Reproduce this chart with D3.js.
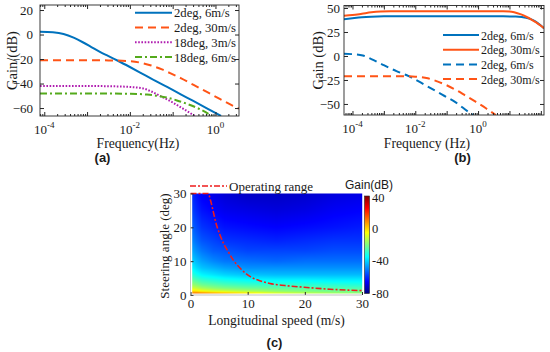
<!DOCTYPE html>
<html>
<head>
<meta charset="utf-8">
<script src="https://cdn.jsdelivr.net/npm/d3@7"></script>
<style>
body { margin: 0; background: #fff; }
svg text { font-family: "Liberation Serif", "Times New Roman", serif; fill: #1a1a1a; }
</style>
</head>
<body>
<div id="chart"></div>
<script>
// ---------- data (log10 frequency in Hz, gain in dB) ----------
var a2deg6 = [[-4.1, 2.2], [-3.8, 1.8], [-3.55, 0.5], [-3.3, -2.8], [-3.1, -6.3], [-2.9, -10.2], [-2.7, -14.2],
  [-2.5, -17.6], [-2.28, -21.4], [-2.0, -26.5], [-1.76, -31], [-1.5, -36], [-1.13, -42.8], [-0.8, -49],
  [-0.53, -54], [-0.2, -60.2], [0.13, -66.5]];
var a2deg30 = [[-4.1, -21], [-3, -21], [-2.5, -21.1], [-2, -21.8], [-1.75, -23], [-1.5, -25.3], [-1.25, -28.5],
  [-1.06, -31.5], [-0.8, -35.8], [-0.5, -41.3], [-0.2, -46.9], [0.1, -52.5], [0.41, -58.2], [0.55, -60.5]];
var a18deg3 = [[-4.1, -42], [-3, -42], [-2.5, -42.2], [-2, -42.8], [-1.69, -44], [-1.5, -46.5], [-1.3, -50],
  [-1.05, -54.5], [-0.83, -59], [-0.65, -62.8], [-0.48, -66.5]];
var a18deg6 = [[-4.1, -48.2], [-2.5, -48.2], [-2, -48.4], [-1.6, -49], [-1.35, -50], [-1.13, -51.5], [-0.9, -53.8],
  [-0.67, -56.5], [-0.36, -61], [-0.08, -66.5]];

var bSolid6 = [[-4.27, 38.3], [-4, 39.3], [-3.7, 40.3], [-3.4, 40.9], [-3, 41.3], [-2, 41.4], [0, 41.4], [0.8, 41.3],
  [1.2, 41.1], [1.4, 40.5], [1.6, 39.3], [1.75, 37.3], [1.9, 34.3], [2.0, 31.8], [2.1, 28.8]];
var bSolid30 = [[-4.27, 42], [-4, 42.6], [-3.7, 44], [-3.4, 45.5], [-3.1, 46.4], [-2.8, 46.7], [0, 46.7], [0.8, 46.6],
  [1.0, 46.4], [1.15, 45.6], [1.37, 43.3], [1.55, 40.6], [1.7, 38], [1.85, 35], [2.0, 31.5], [2.1, 29]];
var bDash6 = [[-4.27, 2.2], [-4, 1.9], [-3.67, 0.5], [-3.4, -3.2], [-3.03, -9.2], [-2.6, -15.8], [-2.21, -21],
  [-1.7, -30], [-1.13, -40.6], [-0.7, -48.6], [-0.24, -59.7], [-0.14, -61.5]];
var bDash30 = [[-4.27, -21], [-2.5, -21], [-2, -21.6], [-1.6, -23.3], [-1.3, -26.5], [-1, -30.5], [-0.71, -35.3],
  [-0.4, -41.3], [-0.08, -47.6], [0.25, -54.5], [0.56, -61.5]];

var aLabels = ["2deg, 6m/s", "2deg, 30m/s", "18deg, 3m/s", "18deg, 6m/s"];
var bLabels = ["2deg, 6m/s", "2deg, 30m/s", "2deg, 6m/s", "2deg, 30m/s"];
var aYTicks = [20, 0, -20, -40, -60];
var bYTicks = [50, 25, 0, -25, -50];
var freqLabelExps = [-4, -2, 0];

// panel (c): gain (dB) over longitudinal speed (columns) and steering angle (rows)
var cSpeeds = [0.3, 1, 2, 4, 6, 10, 15, 20, 25, 30];
var cAngles = [0.3, 0.6, 1, 1.5, 2, 3, 4, 6, 8, 10, 13, 16, 20, 25, 30];
var cGain = [
  [2, 4, 3, 1, -1, -5, -10, -15, -18, -20],
  [9, 11, 9, 6, 3, -3, -9, -13, -16, -18],
  [1, 0, -3, -7, -9, -13, -17, -19, -21, -22],
  [-5, -7, -10, -13, -15, -18, -20, -22, -23, -24],
  [-10, -12, -15, -18, -20, -22, -24, -25, -26, -26],
  [-17, -19, -22, -24, -26, -28, -29, -30, -30, -31],
  [-22, -24, -27, -29, -31, -33, -34, -34, -35, -35],
  [-30, -33, -36, -38, -40, -42, -43, -43, -43, -43],
  [-36, -39, -42, -44, -46, -48, -48, -48, -48, -48],
  [-40, -43, -46, -49, -51, -52, -53, -52, -52, -52],
  [-45, -48, -51, -54, -55, -57, -57, -57, -56, -56],
  [-49, -52, -55, -57, -59, -60, -61, -60, -59, -59],
  [-53, -56, -59, -61, -63, -64, -65, -64, -63, -62],
  [-57, -60, -63, -65, -67, -68, -69, -68, -66, -65],
  [-60, -63, -66, -68, -70, -72, -72, -71, -69, -68]
];
var rangeSpeed = [0, 3.1, 3.5, 4, 4.5, 5.1, 6, 6.6, 7.5, 8.7, 10.4, 12, 13.9, 16.5, 19.8, 24.4, 30];
var rangeAngle = [30, 30, 28, 24.5, 21, 18, 14.5, 12.8, 10.3, 7.9, 5.5, 4.3, 3.4, 2.8, 2.3, 1.7, 1.3];
var cTicks = [0, 10, 20, 30];
var cbarTicks = [40, 0, -40, -80];

// ---------- styles ----------
var BLUE = "#0072BD", ORANGE = "#FF5416", PURPLE = "#B01CB0", GREEN = "#54AA1C";
var AXIS = "#262626";

var svg = d3.select("#chart").append("svg")
    .attr("width", 550)
    .attr("height", 352);

function pow10(e) { return Math.pow(10, e); }

function bodePanel(id, box, xExp, yDom, yTicks, yPad, series, legend, xTitle, yTitle, yTitleX) {
    var x = d3.scaleLog().domain([pow10(xExp[0]), pow10(xExp[1])]).range([box.l, box.r]);
    var y = d3.scaleLinear().domain(yDom).range([box.b, box.t]);
    var g = svg.append("g");

    g.append("clipPath").attr("id", id)
      .append("rect").attr("x", box.l).attr("y", box.t)
        .attr("width", box.r - box.l).attr("height", box.b - box.t);

    var major = [], minor = [];
    for (var k = Math.floor(xExp[0]); k <= Math.ceil(xExp[1]); k++) {
        if (k >= xExp[0] && k <= xExp[1]) major.push(pow10(k));
        for (var m = 2; m < 10; m++) {
            var v = m * pow10(k);
            if (v >= pow10(xExp[0]) && v <= pow10(xExp[1])) minor.push(v);
        }
    }

    var line = d3.line()
        .x(function (d) { return x(pow10(d[0])); })
        .y(function (d) { return y(d[1]); })
        .curve(d3.curveMonotoneX);

    g.append("g").attr("clip-path", "url(#" + id + ")")
      .selectAll("path").data(series)
      .enter().append("path")
        .attr("d", function (s) { return line(s.data); })
        .attr("fill", "none")
        .attr("stroke", function (s) { return s.color; })
        .attr("stroke-width", 2)
        .attr("stroke-dasharray", function (s) { return s.dash; });

    // ticks, inside the box
    [[d3.axisBottom, box.b, major, 4], [d3.axisTop, box.t, major, 4],
     [d3.axisBottom, box.b, minor, 2], [d3.axisTop, box.t, minor, 2]].forEach(function (a) {
        g.append("g").attr("transform", "translate(0," + a[1] + ")")
          .call(a[0](x).tickValues(a[2]).tickSize(-a[3]).tickSizeOuter(0).tickFormat(""))
          .call(function (s) { s.select(".domain").remove(); s.selectAll("line").attr("stroke", AXIS); });
    });
    var yl = g.append("g").attr("transform", "translate(" + box.l + ",0)")
      .call(d3.axisLeft(y).tickValues(yTicks).tickSize(-4).tickSizeOuter(0).tickPadding(yPad));
    yl.select(".domain").remove();
    yl.selectAll("line").attr("stroke", AXIS);
    yl.selectAll("text").attr("font-family", "Liberation Serif").attr("font-size", 13).attr("fill", "#1a1a1a");
    g.append("g").attr("transform", "translate(" + box.r + ",0)")
      .call(d3.axisRight(y).tickValues(yTicks).tickSize(-4).tickSizeOuter(0).tickFormat(""))
      .call(function (s) { s.select(".domain").remove(); s.selectAll("line").attr("stroke", AXIS); });

    // log tick labels with superscripts
    freqLabelExps.forEach(function (e) {
        var t = g.append("text")
            .attr("x", x(pow10(e)))
            .attr("y", box.b + 18)
            .attr("text-anchor", "middle")
            .attr("font-size", 13);
        t.append("tspan").text("10");
        t.append("tspan").attr("dy", -6).attr("font-size", 9).text(e < 0 ? "-" + (-e) : e);
    });

    g.append("rect")
        .attr("x", box.l).attr("y", box.t)
        .attr("width", box.r - box.l).attr("height", box.b - box.t)
        .attr("fill", "none").attr("stroke", AXIS).attr("stroke-width", 0.9);

    // legend
    var lg = g.append("g").selectAll("g").data(series)
      .enter().append("g")
        .attr("transform", function (s, i) { return "translate(0," + (legend.y + i * legend.dy) + ")"; });
    lg.append("line")
        .attr("x1", legend.x1).attr("x2", legend.x2)
        .attr("stroke", function (s) { return s.color; })
        .attr("stroke-width", 2)
        .attr("stroke-dasharray", function (s) { return s.dash; });
    lg.append("text")
        .attr("x", legend.x2 + 2).attr("y", 4.5)
        .attr("font-size", legend.fs)
        .text(function (s) { return s.label; });

    g.append("text")
        .attr("x", xTitle.x).attr("y", 148)
        .attr("text-anchor", "middle")
        .attr("font-size", 13.7)
        .text(xTitle.text);
    g.append("text")
        .attr("transform", "translate(" + yTitleX + "," + ((box.t + box.b) / 2) + ") rotate(-90)")
        .attr("text-anchor", "middle")
        .attr("font-size", 14.5)
        .text(yTitle);
}

bodePanel("clipA", {l: 40, r: 239, t: 5, b: 116}, [-4.1, 0.55], [-66.5, 24.1], aYTicks, 7,
    [{data: a2deg6, color: BLUE, dash: null, label: aLabels[0]},
     {data: a2deg30, color: ORANGE, dash: "8,5", label: aLabels[1]},
     {data: a18deg3, color: PURPLE, dash: "1.6,1.6", label: aLabels[2]},
     {data: a18deg6, color: GREEN, dash: "7,3,2,3", label: aLabels[3]}],
    {x1: 135, x2: 172, y: 12.7, dy: 14.8, fs: 12.7},
    {x: 138, text: "Frequency(Hz)"}, "Gain/(dB)", 17);

bodePanel("clipB", {l: 344, r: 544, t: 5.5, b: 115}, [-4.27, 2.1], [-61.5, 52.6], bYTicks, 4,
    [{data: bSolid6, color: BLUE, dash: null, label: bLabels[0]},
     {data: bSolid30, color: ORANGE, dash: null, label: bLabels[1]},
     {data: bDash6, color: BLUE, dash: "8,5", label: bLabels[2]},
     {data: bDash30, color: ORANGE, dash: "8,5", label: bLabels[3]}],
    {x1: 443, x2: 479, y: 35, dy: 14.7, fs: 12},
    {x: 427, text: "Frequency (Hz)"}, "Gain (dB)", 323);

// ---------- panel (c) ----------
var cx = d3.scaleLinear().domain([0, 30]).range([190.5, 362]);
var cy = d3.scaleLinear().domain([0, 30]).range([295, 193.5]);
var jet = d3.scaleLinear()
    .domain([-80, -65, -35, -5, 25, 40])
    .range(["#000080", "#0000ff", "#00ffff", "#ffff00", "#ff0000", "#800000"])
    .clamp(true);

function cell(arr, v) {
    var i = Math.max(0, Math.min(arr.length - 2, d3.bisectRight(arr, v) - 1));
    var t = Math.max(0, Math.min(1, (v - arr[i]) / (arr[i + 1] - arr[i])));
    return [i, t];
}
function gainAt(v, d) {
    var a = cell(cSpeeds, v), b = cell(cAngles, d);
    var g00 = cGain[b[0]][a[0]], g01 = cGain[b[0]][a[0] + 1];
    var g10 = cGain[b[0] + 1][a[0]], g11 = cGain[b[0] + 1][a[0] + 1];
    var lo = g00 + (g01 - g00) * a[1], hi = g10 + (g11 - g10) * a[1];
    return lo + (hi - lo) * b[1];
}

// the surface covers only the sampled speed/angle range
var x0 = cx(cSpeeds[0]), y0 = cy(cAngles[cAngles.length - 1]);
var cw = Math.round(cx(cSpeeds[cSpeeds.length - 1]) - x0), ch = Math.round(cy(cAngles[0]) - y0);
var canvas = document.createElement("canvas");
canvas.width = cw; canvas.height = ch;
var ctx = canvas.getContext("2d");
var img = ctx.createImageData(cw, ch);
for (var j = 0; j < ch; j++) {
    for (var i = 0; i < cw; i++) {
        var col = d3.rgb(jet(gainAt(cx.invert(x0 + i + 0.5), cy.invert(y0 + j + 0.5))));
        var p = (j * cw + i) * 4;
        img.data[p] = col.r; img.data[p + 1] = col.g; img.data[p + 2] = col.b; img.data[p + 3] = 255;
    }
}
ctx.putImageData(img, 0, 0);

var gc = svg.append("g");
gc.append("image")
    .attr("x", x0).attr("y", y0)
    .attr("width", cw).attr("height", ch)
    .attr("preserveAspectRatio", "none")
    .attr("href", canvas.toDataURL());

gc.append("path")
    .datum(d3.zip(rangeSpeed, rangeAngle))
    .attr("d", d3.line().x(function (d) { return cx(d[0]); }).y(function (d) { return cy(d[1]); }).curve(d3.curveMonotoneX))
    .attr("fill", "none")
    .attr("stroke", "#ee1c1c")
    .attr("stroke-width", 1.6)
    .attr("stroke-dasharray", "6,2,2,2");

var cxa = gc.append("g").attr("transform", "translate(0,295)")
    .call(d3.axisBottom(cx).tickValues(cTicks).tickSize(-3).tickSizeOuter(0).tickPadding(4));
var cya = gc.append("g").attr("transform", "translate(190.5,0)")
    .call(d3.axisLeft(cy).tickValues(cTicks).tickSize(-3).tickSizeOuter(0).tickPadding(4));
[cxa, cya].forEach(function (a) {
    a.select(".domain").remove();
    a.selectAll("line").attr("stroke", AXIS);
    a.selectAll("text").attr("font-family", "Liberation Serif").attr("font-size", 13).attr("fill", "#1a1a1a");
});
gc.append("line")
    .attr("x1", cx(0)).attr("x2", cx(30)).attr("y1", 295).attr("y2", 295)
    .attr("stroke", "#999").attr("stroke-width", 0.6);
gc.append("line")
    .attr("x1", cx(0)).attr("x2", cx(0)).attr("y1", cy(0)).attr("y2", cy(30))
    .attr("stroke", "#999").attr("stroke-width", 0.6);

// legend (c)
gc.append("line")
    .attr("x1", 190).attr("x2", 227).attr("y1", 186).attr("y2", 186)
    .attr("stroke", "#ee1c1c").attr("stroke-width", 1.6).attr("stroke-dasharray", "6,2,2,2");
gc.append("text").attr("x", 229).attr("y", 190.5).attr("font-size", 13).text("Operating range");

// colorbar
var cb = d3.scaleLinear().domain([-80, 40]).range([293.5, 196]);
var grad = svg.append("defs").append("linearGradient")
    .attr("id", "jetGrad").attr("x1", 0).attr("y1", 1).attr("x2", 0).attr("y2", 0);
grad.selectAll("stop").data(jet.domain())
  .enter().append("stop")
    .attr("offset", function (d) { return (d + 80) / 120; })
    .attr("stop-color", function (d) { return jet(d); });
gc.append("rect")
    .attr("x", 364.5).attr("y", cb(40))
    .attr("width", 5).attr("height", cb(-80) - cb(40))
    .attr("fill", "url(#jetGrad)")
    .attr("stroke", AXIS).attr("stroke-width", 0.6);
gc.selectAll(".cbl").data(cbarTicks)
  .enter().append("text")
    .attr("x", 372).attr("y", function (d) { return cb(d) + (d === 40 ? 1.5 : 0); })
    .attr("dy", "0.35em")
    .attr("font-size", 12.5)
    .text(function (d) { return d; });
gc.append("text")
    .attr("x", 345).attr("y", 189)
    .attr("font-size", 12)
    .style("font-family", "'Liberation Sans', Arial, sans-serif")
    .text("Gain(dB)");

gc.append("text")
    .attr("x", 276.5).attr("y", 325)
    .attr("text-anchor", "middle")
    .attr("font-size", 13.6)
    .text("Longitudinal speed (m/s)");
gc.append("text")
    .attr("transform", "translate(169,246) rotate(-90)")
    .attr("text-anchor", "middle")
    .attr("font-size", 13)
    .text("Steering angle (deg)");

// panel letters
[["(a)", 102.5, 162], ["(b)", 462.5, 162], ["(c)", 274.5, 347]].forEach(function (d) {
    svg.append("text")
        .attr("x", d[1]).attr("y", d[2])
        .attr("text-anchor", "middle")
        .attr("font-size", 13)
        .attr("font-weight", "bold")
        .style("font-family", "'Liberation Sans', Arial, sans-serif")
        .text(d[0]);
});
</script>
</body>
</html>
